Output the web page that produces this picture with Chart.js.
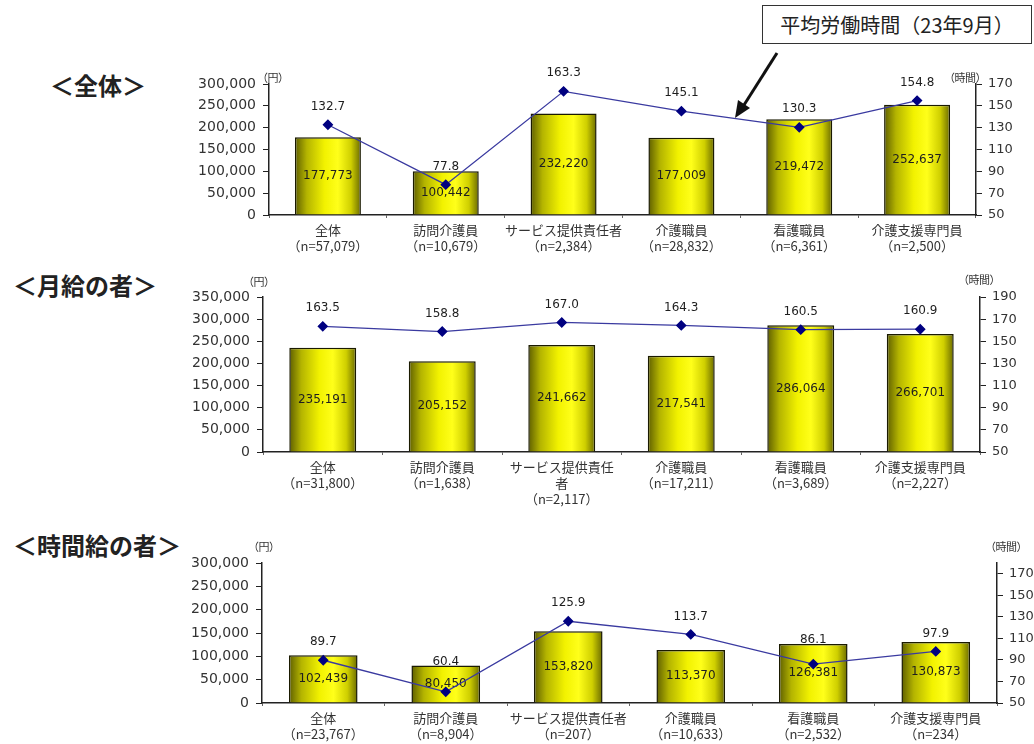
<!DOCTYPE html>
<html lang="ja">
<head>
<meta charset="utf-8">
<script src="https://cdn.jsdelivr.net/npm/chart.js@4.4.1/dist/chart.umd.min.js"></script>
<style>
  html, body { margin: 0; padding: 0; background: #fff; }
  body { width: 1034px; height: 744px; position: relative; overflow: hidden; font-family: "Noto Sans CJK JP", sans-serif; color: #222; }
  canvas { position: absolute; left: 0; }
  .hd { position: absolute; font-size: 24px; font-weight: bold; line-height: 1; white-space: nowrap; color: #222; }
  .unit { position: absolute; font-size: 11px; line-height: 1; white-space: nowrap; color: #333; letter-spacing: -0.5px; }
  .note { position: absolute; left: 762px; top: 5px; width: 268px; height: 37px; border: 1.5px solid #333; font-size: 20px; line-height: 37px; text-align: center; white-space: nowrap; color: #222; background: #fff; }
  svg { position: absolute; left: 0; top: 0; }
</style>
</head>
<body>

<div class="hd" style="left:50px;top:73px;">＜全体＞</div>
<div class="hd" style="left:13px;top:273px;">＜月給の者＞</div>
<div class="hd" style="left:13px;top:533px;">＜時間給の者＞</div>

<canvas id="c1" width="1034" height="205" style="top:55px"></canvas>
<canvas id="c2" width="1034" height="250" style="top:265px"></canvas>
<canvas id="c3" width="1034" height="219" style="top:525px"></canvas>

<div class="unit" style="left:257px;top:72px;">（円）</div>
<div class="unit" style="left:944px;top:72px;">（時間）</div>
<div class="unit" style="left:243px;top:276px;">（円）</div>
<div class="unit" style="left:958px;top:274px;">（時間）</div>
<div class="unit" style="left:248px;top:541px;">（円）</div>
<div class="unit" style="left:985px;top:541px;">（時間）</div>

<div class="note">平均労働時間（23年9月）</div>
<svg width="1034" height="744">
  <line x1="777" y1="53" x2="744" y2="105" stroke="#111" stroke-width="3"/>
  <polygon points="735,118 738,100 750,108" fill="#111"/>
</svg>

<script>
// 職種
const jobs = ['全体', '訪問介護員', 'サービス提供責任者', '介護職員', '看護職員', '介護支援専門員'];

// 全体
const nAll = ['57,079', '10,679', '2,384', '28,832', '6,361', '2,500'];
const wageAll = [177773, 100442, 232220, 177009, 219472, 252637];
const hoursAll = [132.7, 77.8, 163.3, 145.1, 130.3, 154.8];

// 月給の者
const nMonthly = ['31,800', '1,638', '2,117', '17,211', '3,689', '2,227'];
const wageMonthly = [235191, 205152, 241662, 217541, 286064, 266701];
const hoursMonthly = [163.5, 158.8, 167.0, 164.3, 160.5, 160.9];

// 時間給の者
const nHourly = ['23,767', '8,904', '207', '10,633', '2,532', '234'];
const wageHourly = [102439, 80450, 153820, 113370, 126381, 130873];
const hoursHourly = [89.7, 60.4, 125.9, 113.7, 86.1, 97.9];

// 目盛
const yenTicks300 = [0, 50000, 100000, 150000, 200000, 250000, 300000];
const yenTicks350 = [0, 50000, 100000, 150000, 200000, 250000, 300000, 350000];
const hourTicks170 = [50, 70, 90, 110, 130, 150, 170];
const hourTicks190 = [50, 70, 90, 110, 130, 150, 170, 190];

const NUM_FONT = '"DejaVu Sans", "Noto Sans CJK JP", sans-serif';
const CJK_FONT = '"Noto Sans CJK JP", sans-serif';
const BAR_PCT = 0.56;

function makeLabels(ns, splitThird) {
  return jobs.map((j, i) => {
    if (splitThird && i === 2) return ['サービス提供責任', '者', '（n=' + ns[i] + '）'];
    return [j, '（n=' + ns[i] + '）'];
  });
}

function barFill(ctx) {
  const chart = ctx.chart;
  const xs = chart.scales.x;
  if (ctx.type !== 'data' || !xs || !chart.chartArea) return '#e6e600';
  const w = (xs.right - xs.left) / chart.data.labels.length * BAR_PCT;
  const cx = xs.getPixelForValue(ctx.dataIndex);
  const g = chart.ctx.createLinearGradient(cx - w / 2, 0, cx + w / 2, 0);
  g.addColorStop(0, '#5e5e00');
  g.addColorStop(0.18, '#b4b400');
  g.addColorStop(0.45, '#f2f200');
  g.addColorStop(0.65, '#ffff1a');
  g.addColorStop(0.85, '#cfcf00');
  g.addColorStop(1, '#6a6a00');
  return g;
}

// 棒の中央に金額、折れ線の点の上に時間（棒と重なる時は棒の上へ）
const valueLabels = {
  id: 'valueLabels',
  afterDatasetDraw(chart, args) {
    const meta = args.meta;
    const ds = chart.data.datasets[args.index];
    const c = chart.ctx;
    const bars = chart.getDatasetMeta(0).data;
    c.save();
    c.textAlign = 'center';
    c.textBaseline = 'middle';
    c.fillStyle = '#1e1e1e';
    c.font = '12px ' + NUM_FONT;
    meta.data.forEach((el, i) => {
      if (meta.type === 'bar') {
        c.fillText(ds.data[i].toLocaleString('en-US'), el.x, (el.y + el.base) / 2);
      } else {
        let y = el.y - 18;
        if (el.y > bars[i].y) y = Math.min(y, bars[i].y - 4);
        c.fillText(ds.data[i].toFixed(1), el.x, y);
      }
    });
    c.restore();
  }
};

function makeChart(id, cfg) {
  return new Chart(document.getElementById(id), {
    type: 'bar',
    data: {
      labels: cfg.labels,
      datasets: [
        {
          type: 'bar',
          data: cfg.wages,
          yAxisID: 'y',
          order: 2,
          backgroundColor: barFill,
          borderColor: '#1a1a00',
          borderWidth: 1.5,
          borderSkipped: 'bottom',
          categoryPercentage: 1,
          barPercentage: BAR_PCT
        },
        {
          type: 'line',
          data: cfg.hours,
          yAxisID: 'y1',
          order: 1,
          borderColor: '#3a3aa0',
          borderWidth: 1.3,
          pointStyle: 'rectRot',
          pointRadius: 4.5,
          pointBackgroundColor: '#000080',
          pointBorderColor: '#000080',
          tension: 0
        }
      ]
    },
    options: {
      responsive: false,
      animation: false,
      events: [],
      layout: { padding: { top: cfg.top, left: 0, right: 0, bottom: 0 } },
      plugins: { legend: { display: false }, tooltip: { enabled: false } },
      scales: {
        x: {
          offset: true,
          grid: { display: true, drawOnChartArea: false, drawTicks: true, tickLength: 3, color: '#666', offset: true },
          border: { display: true, color: '#222', width: 1.5 },
          ticks: { font: { family: CJK_FONT, size: 13, lineHeight: 1.22 }, color: '#333', padding: 4, maxRotation: 0, autoSkip: false },
          afterFit(s) { s.height = cfg.xHeight; }
        },
        y: {
          position: 'left',
          min: 0,
          max: cfg.yenTicks[cfg.yenTicks.length - 1],
          afterBuildTicks(s) { s.ticks = cfg.yenTicks.map(v => ({ value: v })); },
          ticks: { font: { family: NUM_FONT, size: 14 }, color: '#333', padding: 7, callback: v => v.toLocaleString('en-US') },
          grid: { drawOnChartArea: false, drawTicks: true, tickLength: 6, color: '#222' },
          border: { display: true, color: '#222', width: 1.5 },
          afterFit(s) { s.width = cfg.left; }
        },
        y1: {
          position: 'right',
          min: 50,
          max: cfg.hourMax,
          afterBuildTicks(s) { s.ticks = cfg.hourTicks.map(v => ({ value: v })); },
          ticks: { font: { family: NUM_FONT, size: 13 }, color: '#333', padding: 6 },
          grid: { drawOnChartArea: false, drawTicks: true, tickLength: 6, color: '#222' },
          border: { display: true, color: '#222', width: 1.5 },
          afterFit(s) { s.width = 1034 - cfg.right; }
        }
      }
    },
    plugins: [valueLabels]
  });
}

makeChart('c1', {
  labels: makeLabels(nAll, false), wages: wageAll, hours: hoursAll,
  yenTicks: yenTicks300, hourTicks: hourTicks170, hourMax: 170,
  left: 269, right: 976, top: 29, xHeight: 45
});

makeChart('c2', {
  labels: makeLabels(nMonthly, true), wages: wageMonthly, hours: hoursMonthly,
  yenTicks: yenTicks350, hourTicks: hourTicks190, hourMax: 190,
  left: 263, right: 980, top: 32, xHeight: 63
});

makeChart('c3', {
  labels: makeLabels(nHourly, false), wages: wageHourly, hours: hoursHourly,
  yenTicks: yenTicks300, hourTicks: hourTicks170, hourMax: 180,
  left: 262, right: 997, top: 38, xHeight: 41
});
</script>
</body>
</html>
